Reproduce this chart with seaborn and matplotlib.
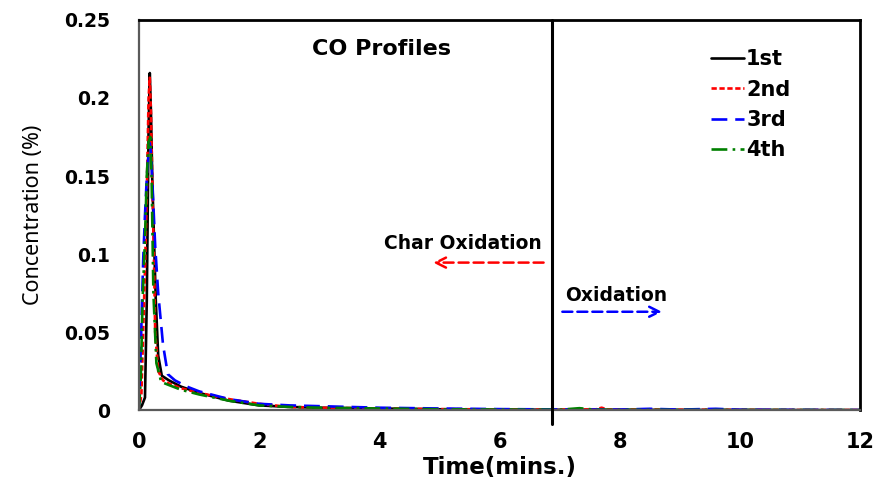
import numpy as np
import pandas as pd
import matplotlib
matplotlib.use("Agg")
import matplotlib.pyplot as plt
import seaborn as sns

# Time points (min) and CO concentration (%) per run
t1 = [0.0, 0.05, 0.1, 0.13, 0.16, 0.18, 0.2, 0.22, 0.25, 0.28, 0.32, 0.38, 0.5, 0.7, 1.0, 1.5, 2.0, 2.5, 3.0, 4.0, 5.0, 6.0, 7.0, 8.0, 9.0, 10.0, 11.0, 12.0]
c1 = [0.0, 0.003, 0.008, 0.07, 0.18, 0.216, 0.19, 0.15, 0.11, 0.07, 0.035, 0.022, 0.019, 0.015, 0.011, 0.006, 0.003, 0.002, 0.0015, 0.001, 0.0005, 0.0003, 0.0002, 0.0002, 0.0001, 0.0001, 0.0, 0.0]

t2 = [0.0, 0.04, 0.07, 0.1, 0.13, 0.16, 0.18, 0.2, 0.23, 0.25, 0.27, 0.32, 0.4, 0.5, 0.7, 1.0, 1.5, 2.0, 2.5, 3.0, 4.0, 5.0, 6.0, 7.0, 7.6, 7.7, 7.8, 9.0, 10.0, 11.0, 12.0]
c2 = [0.0, 0.01, 0.05, 0.09, 0.139, 0.2, 0.213, 0.19, 0.13, 0.096, 0.05, 0.025, 0.019, 0.017, 0.014, 0.011, 0.007, 0.004, 0.002, 0.0015, 0.001, 0.0006, 0.0004, 0.0003, 0.0004, 0.0015, 0.0003, 0.0002, 0.0001, 0.0, 0.0]

t3 = [0.0, 0.03, 0.07, 0.1, 0.13, 0.16, 0.18, 0.2, 0.23, 0.27, 0.32, 0.4, 0.48, 0.6, 0.8, 1.0, 1.5, 2.0, 2.5, 3.0, 4.0, 5.0, 6.0, 7.0, 8.0, 8.5, 9.0, 9.6, 10.0, 11.0, 12.0]
c3 = [0.0, 0.04, 0.096, 0.125, 0.149, 0.165, 0.171, 0.165, 0.14, 0.105, 0.075, 0.042, 0.023, 0.019, 0.015, 0.012, 0.007, 0.004, 0.003, 0.0025, 0.0015, 0.001, 0.0006, 0.0004, 0.0003, 0.0008, 0.0003, 0.0008, 0.0002, 0.0001, 0.0]

t4 = [0.0, 0.03, 0.06, 0.1, 0.13, 0.16, 0.19, 0.21, 0.24, 0.29, 0.37, 0.5, 0.7, 1.0, 1.5, 2.0, 2.5, 3.0, 4.0, 5.0, 6.0, 7.0, 7.33, 7.6, 8.0, 9.0, 10.0, 11.0, 12.0]
c4 = [0.0, 0.02, 0.07, 0.11, 0.15, 0.172, 0.175, 0.15, 0.075, 0.03, 0.018, 0.016, 0.013, 0.01, 0.006, 0.003, 0.002, 0.0015, 0.001, 0.0005, 0.0003, 0.0002, 0.0012, 0.0002, 0.0001, 0.0001, 0.0, 0.0, 0.0]

runs = ["1st", "2nd", "3rd", "4th"]
switch_time = 6.88

frames = []
for name, t, c in zip(runs, [t1, t2, t3, t4], [c1, c2, c3, c4]):
    frames.append(pd.DataFrame({"Time": t, "Conc": c, "Run": name}))
df = pd.concat(frames, ignore_index=True)

sns.set_style("white")
plt.rcParams["font.family"] = ["DejaVu Sans"]
plt.rcParams["text.color"] = "black"
plt.rcParams["axes.labelcolor"] = "black"
plt.rcParams["xtick.labelcolor"] = "black"
plt.rcParams["ytick.labelcolor"] = "black"

fig = plt.figure(figsize=(8.88, 4.87), dpi=100)
ax = fig.add_axes([0.1565, 0.158, 0.812, 0.801])

palette = {"1st": "black", "2nd": "red", "3rd": "blue", "4th": "green"}
dashes = {"1st": "", "2nd": (2, 1), "3rd": (6, 3), "4th": (6, 2, 1, 2)}
sns.lineplot(data=df, x="Time", y="Conc", hue="Run", style="Run",
             palette=palette, dashes=dashes, linewidth=1.9, ax=ax,
             estimator=None, sort=False)

ax.plot([switch_time, switch_time], [-0.009, 0.25], color="black", linewidth=2.2,
        clip_on=False, zorder=5)

ax.set_xlim(0, 12)
ax.set_ylim(0, 0.25)
ax.set_xticks([0, 2, 4, 6, 8, 10, 12])
ax.set_xticklabels(["0", "2", "4", "6", "8", "10", "12"])
ax.set_yticks([0, 0.05, 0.1, 0.15, 0.2, 0.25])
ax.set_yticklabels(["0", "0.05", "0.1", "0.15", "0.2", "0.25"])
ax.tick_params(axis="y", direction="out", length=7, width=1, color="#9a9a9a",
               labelcolor="black", labelsize=13.5, pad=14)
ax.tick_params(axis="x", direction="out", length=5, width=1, color="#9a9a9a",
               labelcolor="black", labelsize=15, pad=11)
for lab in ax.get_xticklabels() + ax.get_yticklabels():
    lab.set_fontweight("bold")

ax.set_xlabel("Time(mins.)", fontsize=16.5, fontweight="bold", labelpad=3, color="black")
ax.set_ylabel("Concentration (%)", fontsize=15.5, labelpad=14, color="black",
              family=["Noto Sans", "DejaVu Sans"])

for side in ["top", "right"]:
    ax.spines[side].set_color("black")
    ax.spines[side].set_linewidth(2.0)
for side in ["left", "bottom"]:
    ax.spines[side].set_color("#5a5a5a")
    ax.spines[side].set_linewidth(1.6)

ax.text(0.336, 0.925, "CO Profiles", transform=ax.transAxes, ha="center", va="center",
        fontsize=16, fontweight="bold", color="black")

ax.text(5.39, 0.107, "Char Oxidation", ha="center", va="center", fontsize=13.5,
        fontweight="bold", color="black")
ax.annotate("", xy=(4.85, 0.0945), xytext=(6.78, 0.0945),
            arrowprops=dict(arrowstyle="->", color="red", lw=1.8, linestyle=(0, (4, 2)),
                            mutation_scale=18))
ax.text(7.95, 0.0735, "Oxidation", ha="center", va="center", fontsize=13.5,
        fontweight="bold", color="black")
ax.annotate("", xy=(8.75, 0.063), xytext=(7.0, 0.063),
            arrowprops=dict(arrowstyle="->", color="blue", lw=1.8, linestyle=(0, (4, 2)),
                            mutation_scale=18))

leg = ax.legend(loc="upper left", bbox_to_anchor=(0.793, 0.925), frameon=False,
                borderpad=0, borderaxespad=0,
                fontsize=15, handlelength=1.6, handletextpad=0.1, labelspacing=0.5)
for txt in leg.get_texts():
    txt.set_fontweight("bold")
    txt.set_color("black")

fig.savefig("out.png", dpi=100)
